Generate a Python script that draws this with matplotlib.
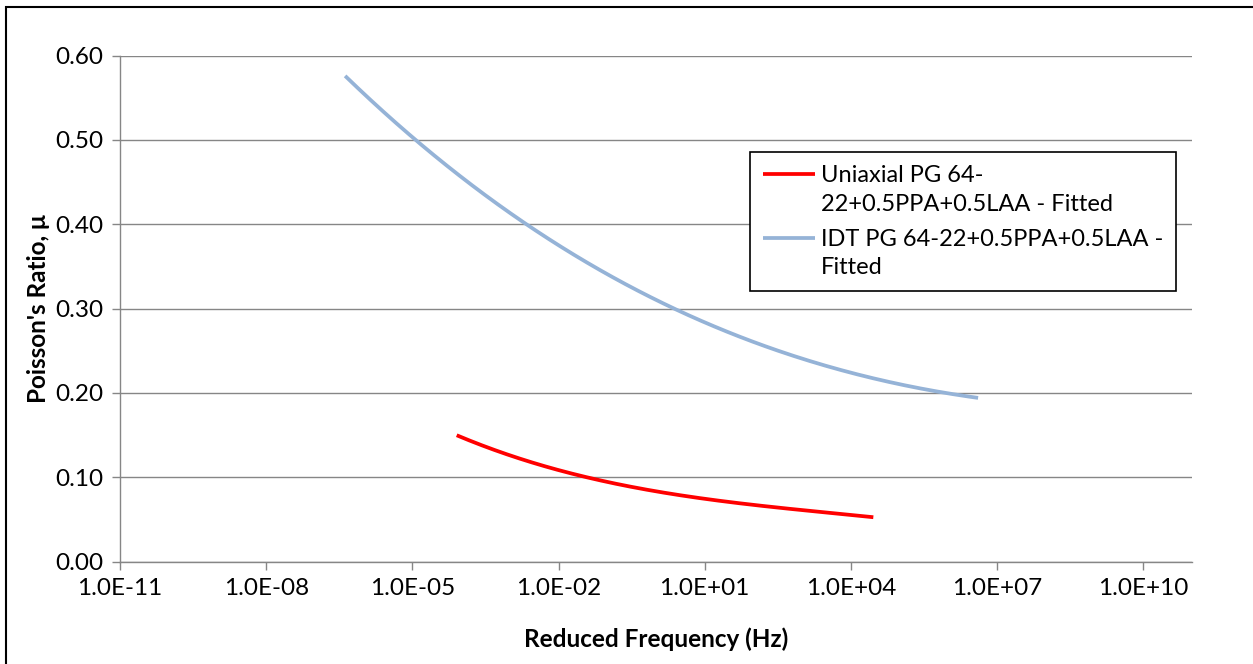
import matplotlib
matplotlib.use("Agg")
import matplotlib.pyplot as plt
from matplotlib.ticker import FixedLocator, FuncFormatter, NullLocator
from matplotlib.patches import Rectangle
from matplotlib.legend_handler import HandlerLine2D
from matplotlib.lines import Line2D
import numpy as np

# Data (log10 of reduced frequency, Poisson's ratio)
idt_logf = [-6.38, -4.91, -3.82, -2.65, -1.49, -0.12, 0.35, 1.72, 3.09, 4.46, 5.83, 6.61]
idt_mu = [0.575, 0.500, 0.448, 0.400, 0.357, 0.313, 0.300, 0.266, 0.239, 0.218, 0.2025, 0.1925]

uni_logf = [-4.09, -2.72, -1.35, 0.01, 1.38, 2.75, 4.46]
uni_mu = [0.150, 0.120, 0.0988, 0.0837, 0.0719, 0.0615, 0.0528]

labels = ["Uniaxial PG 64-\n22+0.5PPA+0.5LAA - Fitted",
          "IDT PG 64-22+0.5PPA+0.5LAA -\nFitted"]
x_tick_exps = [-11, -8, -5, -2, 1, 4, 7, 10]
y_ticks = [0.0, 0.1, 0.2, 0.3, 0.4, 0.5, 0.6]

plt.rcParams['font.family'] = ['Lato', 'DejaVu Sans']
FS = 17.5

W, H = 1253, 664
fig = plt.figure(figsize=(W / 100, H / 100), dpi=100)
ax = fig.add_axes([120 / W, 1 - 561.5 / H, (1192 - 120) / W, (561.5 - 55.5) / H])

# outer chart border
fig.patches.append(Rectangle((6 / W, -0.1), 1.2, 1 - 7 / H + 0.1, transform=fig.transFigure,
                             fill=False, edgecolor='#000000', linewidth=1.5))

def smooth(lx, y, n=200):
    lx = np.asarray(lx); y = np.asarray(y)
    xs = np.linspace(lx[0], lx[-1], n)
    c = np.polyfit(lx, y, 3)
    return 10 ** xs, np.polyval(c, xs)

ux, uy = smooth(uni_logf, uni_mu)
ix, iy = smooth(idt_logf, idt_mu)
ax.plot(ux, uy, color='#FF0000', lw=2.7, label=labels[0], solid_capstyle='butt')
ax.plot(ix, iy, color='#95B3D7', lw=2.7, label=labels[1], solid_capstyle='butt')

ax.set_xscale('log')
ax.set_xlim(1e-11, 1e11)
ax.set_ylim(0, 0.6)
ax.xaxis.set_major_locator(FixedLocator([10.0 ** e for e in x_tick_exps]))
ax.xaxis.set_minor_locator(NullLocator())
ax.xaxis.set_major_formatter(FuncFormatter(lambda v, p: "1.0E%+03d" % int(round(np.log10(v)))))
ax.yaxis.set_major_locator(FixedLocator(y_ticks))
ax.yaxis.set_major_formatter(FuncFormatter(lambda v, p: "%.2f" % v))

ax.grid(axis='y', color='#868686', linewidth=1.0)
ax.set_axisbelow(True)
for s in ['top', 'right']:
    ax.spines[s].set_visible(False)
for s in ['left', 'bottom']:
    ax.spines[s].set_color('#868686')
    ax.spines[s].set_linewidth(1.0)
ax.tick_params(axis='both', which='major', direction='out', length=6, width=1,
               color='#868686', labelsize=FS, labelcolor='black')
ax.tick_params(axis='x', pad=6)
ax.tick_params(axis='y', pad=6)

ax.set_xlabel("Reduced Frequency (Hz)", fontsize=FS, fontweight='bold', labelpad=20)
ax.set_ylabel("Poisson's Ratio, μ", fontsize=FS, fontweight='bold', labelpad=4)


class TopLineHandler(HandlerLine2D):
    """Place the legend line level with the first text line of a two-line label."""
    def __init__(self, shift, **kw):
        super().__init__(**kw)
        self.shift = shift

    def create_artists(self, legend, orig_handle, xdescent, ydescent, width, height,
                       fontsize, trans):
        arts = super().create_artists(legend, orig_handle, xdescent, ydescent, width,
                                      height, fontsize, trans)
        for a in arts:
            if isinstance(a, Line2D):
                yd = np.asarray(a.get_ydata(), dtype=float)
                a.set_ydata(yd + self.shift)
        return arts


handles, labs = ax.get_legend_handles_labels()
leg = ax.legend(handles, labs, loc='upper left',
                bbox_to_anchor=((750 - 120) / 1072, (561.5 - 152) / 506),
                fontsize=17, frameon=True, fancybox=False, edgecolor='black',
                framealpha=1, handlelength=2.2, handletextpad=0.25, borderpad=0.55,
                borderaxespad=0, labelspacing=0.6,
                handler_map={Line2D: TopLineHandler(11.5)})
leg.get_frame().set_linewidth(1.2)
for t in leg.get_texts():
    t.set_linespacing(1.45)

fig.savefig("out.png", dpi=100)
